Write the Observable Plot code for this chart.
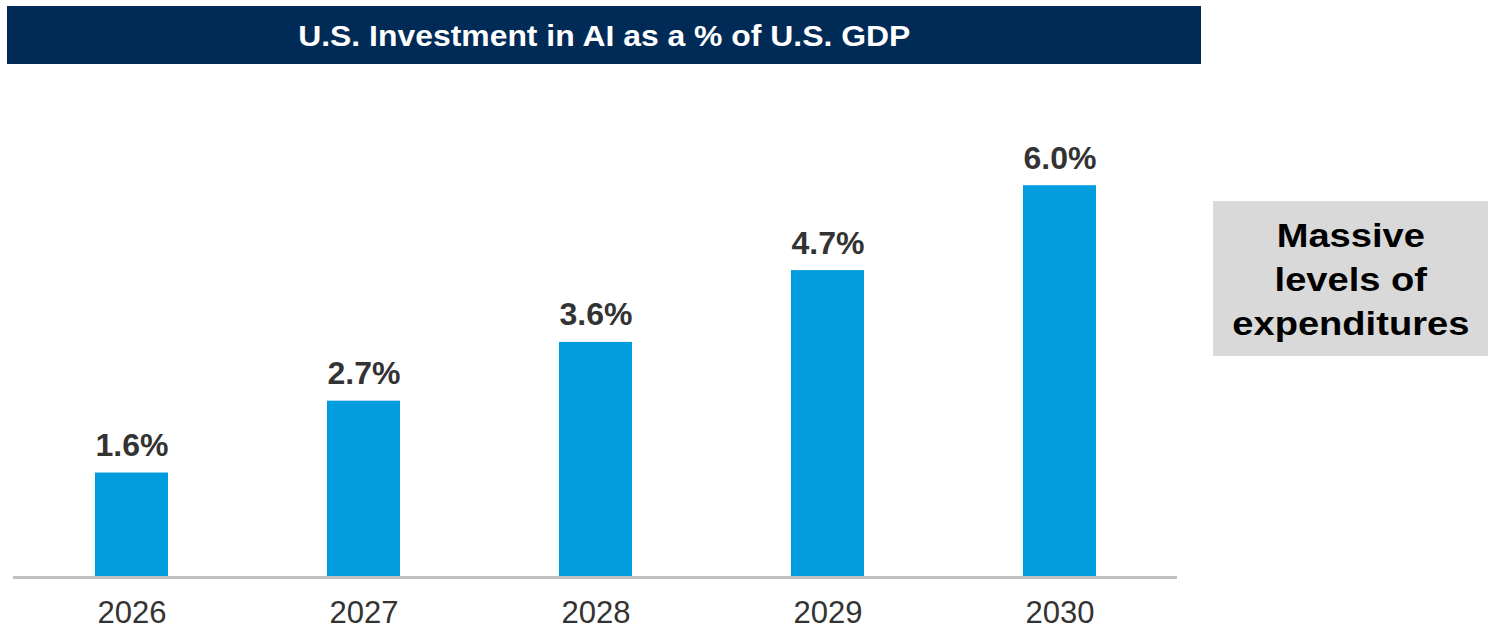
<!DOCTYPE html>
<html>
<head>
<meta charset="utf-8">
<script src="https://cdn.jsdelivr.net/npm/d3@7"></script>
<script src="https://cdn.jsdelivr.net/npm/@observablehq/plot@0.6"></script>
<style>
  html, body { margin: 0; padding: 0; background: #fff; }
  body { width: 1488px; height: 627px; position: relative; overflow: hidden; font-family: "Liberation Sans", Arial, sans-serif; }
  #title {
    position: absolute; left: 7px; top: 6px; width: 1194px; height: 58px;
    background: #002B57; color: #fff; font-weight: bold; font-size: 29px;
    text-align: center; line-height: 58px; box-sizing: border-box; padding-top: 1px;
  }
  #title span { display: inline-block; transform: scaleX(1.1); }
  #callout {
    position: absolute; left: 1213px; top: 201px; width: 275px; height: 155px;
    background: #D9D9D9; color: #000; font-weight: bold; font-size: 34px; line-height: 44px;
    display: flex; align-items: center; justify-content: center; text-align: center;
  }
  #callout span { display: inline-block; transform: scaleX(1.12); white-space: nowrap; }
  #chart { position: absolute; left: 0; top: 70px; }
</style>
</head>
<body>
<div id="title"><span></span></div>
<div id="chart"></div>
<div id="callout"><span></span></div>
<script>
const titleText = "U.S. Investment in AI as a % of U.S. GDP";
const calloutLines = ["Massive", "levels of", "expenditures"];
const years = ["2026", "2027", "2028", "2029", "2030"];
const values = [1.6, 2.7, 3.6, 4.7, 6.0];
const valueLabels = ["1.6%", "2.7%", "3.6%", "4.7%", "6.0%"];

document.querySelector("#title span").textContent = titleText;
document.querySelector("#callout span").innerHTML = calloutLines.join("<br>");

const data = years.map((year, i) => ({ year, value: values[i], label: valueLabels[i] }));

const pxPerUnit = 65.3;
const base = 507;

const chart = Plot.plot({
  width: 1488,
  height: 557,
  marginLeft: 13,
  marginRight: 311,
  marginTop: 0,
  marginBottom: 50,
  style: { fontFamily: "'Liberation Sans', Arial, sans-serif", color: "#333", background: "transparent" },
  x: { domain: years, paddingInner: 0.686, paddingOuter: 0.345, label: null },
  y: { domain: [0, 7], range: [base, base - 7 * pxPerUnit], axis: null },
  marks: [
    Plot.barY(data, { x: "year", y: "value", fill: "#009CDE" }),
    Plot.ruleY([0], { stroke: "#BFBFBF", strokeWidth: 3 }),
    Plot.text(data, { x: "year", y: "value", text: "label", lineAnchor: "bottom", dy: -17, fontSize: 32, fontWeight: "bold", fill: "#333" }),
    Plot.axisX({ tickSize: 0, tickPadding: 23, fontSize: 31, fill: "#333", label: null })
  ]
});
document.getElementById("chart").appendChild(chart);
</script>
</body>
</html>
